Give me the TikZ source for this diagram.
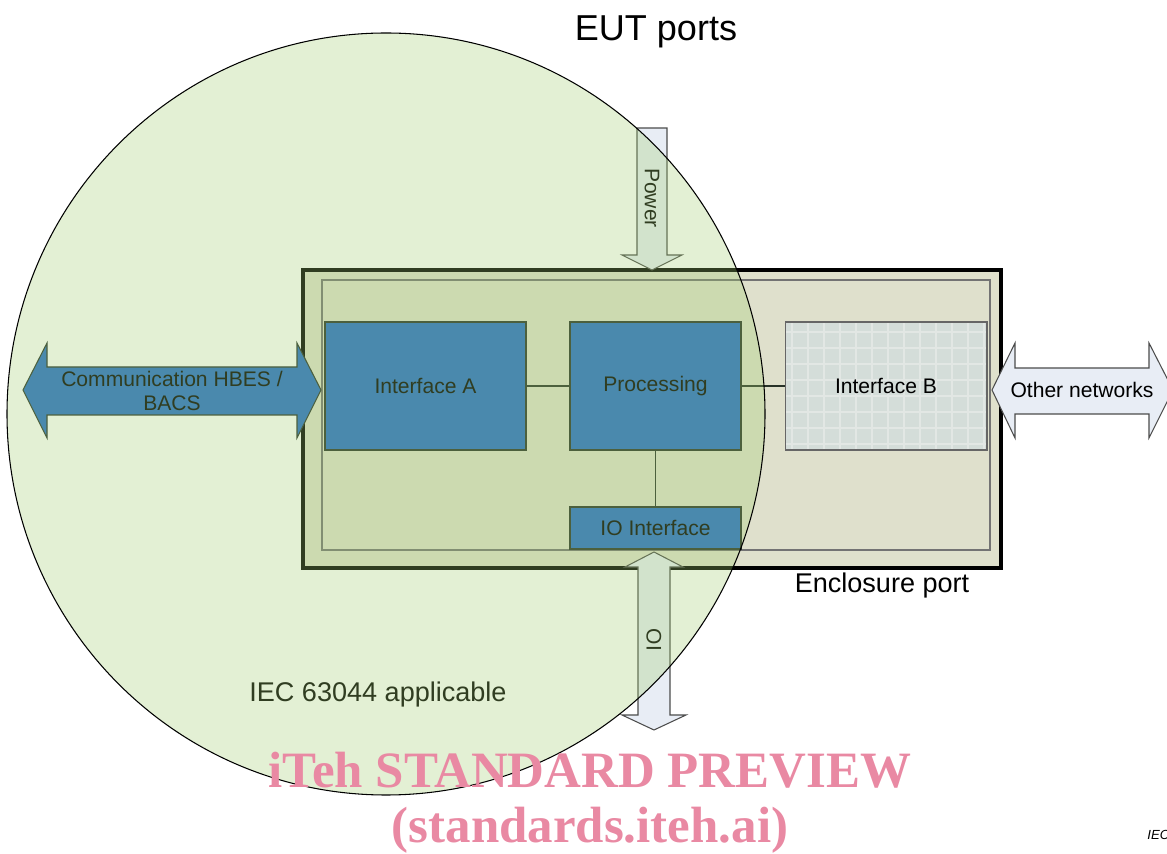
\documentclass[tikz,border=0pt]{standalone}
\usepackage{fontspec}
\setmainfont{Liberation Sans}
\newfontfamily\wmfont{Liberation Serif}
\usepackage{tikz}

\definecolor{boxblue}{RGB}{36,108,200}
\definecolor{circgreen}{RGB}{162,205,112}
\definecolor{encfill}{RGB}{223,224,204}
\definecolor{portfill}{RGB}{232,237,245}
\definecolor{gridfill}{RGB}{212,221,217}
\definecolor{gridline}{RGB}{226,231,228}
\definecolor{wmpink}{RGB}{233,137,163}
\definecolor{edge}{RGB}{40,50,40}

\begin{document}
\begin{tikzpicture}
[x=0.02cm,y=-0.02cm,every node/.style={font=\fontsize{12}{14}\selectfont,inner sep=0pt},
 box/.style={draw=edge,fill=boxblue,line width=0.6pt,minimum height=2.56cm},
 link/.style={draw=edge,line width=0.6pt},
 port/.style={draw=black!70,fill=portfill,line width=0.6pt}]

  \useasboundingbox (0,0) rectangle (1167,854);

  % enclosure
  \draw[line width=2.3pt,fill=encfill] (303,270) rectangle (1001,568);
  \draw[draw=black!55,line width=0.6pt] (322,280) rectangle (990,550);

  % grid under interface B
  \fill[gridfill] (785,322) rectangle (987,450);
  \foreach \gx in {792,808,...,984}
    \draw[gridline,line width=0.9pt] (\gx,323) -- (\gx,449);
  \foreach \gy in {332,348,...,444}
    \draw[gridline,line width=0.9pt] (786,\gy) -- (986,\gy);

  \node[box,minimum width=4.02cm] (ifa) at (425.5,386) {Interface A};
  \node[box,minimum width=3.42cm] (proc) at (655.5,386) {Processing};
  \node[box,fill=none,draw=black!60,minimum width=4.04cm] (ifb) at (886,386) {Interface B};
  \node[box,minimum width=3.42cm,minimum height=0.84cm] (io) at (655.5,528) {IO Interface};

  \foreach \from/\to in {ifa/proc, proc/ifb, proc/io}
    \draw[link] (\from) -- (\to);

  % ports
  \draw[port] (637,128) -- (667,128) -- (667,255) -- (682,255) -- (652,270)
    -- (622,255) -- (637,255) -- cycle;
  \node[rotate=-90] (power) at (652,198) {Power};

  \draw[port] (638,567) -- (625,567) -- (654,552) -- (683,567) -- (670,567)
    -- (670,715) -- (686,715) -- (654,730) -- (622,715) -- (638,715) -- cycle;
  \node[rotate=-90] (oi) at (654,640) {OI};

  \draw[draw=edge,fill=boxblue,line width=0.6pt] (23,390) -- (47,343) -- (47,367)
    -- (297,367) -- (297,343) -- (321,390) -- (297,438) -- (297,415)
    -- (47,415) -- (47,438) -- cycle;
  \node[align=center] (comm) at (172,391) {Communication HBES /\\BACS};

  \draw[port] (992,390) -- (1015,343) -- (1015,368) -- (1149,368) -- (1149,343)
    -- (1173,390) -- (1149,438) -- (1149,414) -- (1015,414) -- (1015,438) -- cycle;
  \node (other) at (1082,390) {Other networks};

  % labels
  \node[font=\fontsize{20.5}{24}\selectfont] (eut) at (656,32) {EUT ports};
  \node[font=\fontsize{15.4}{18}\selectfont] (encl) at (882,586) {Enclosure port};
  \node[font=\fontsize{15.4}{18}\selectfont] (appl) at (378,695) {IEC 63044 applicable};

  % applicability circle
  \draw[fill=circgreen,fill opacity=0.3,line width=0.6pt] (386,414) ellipse [x radius=379,y radius=381];

  \node[font=\wmfont\bfseries\fontsize{29}{34}\selectfont,text=wmpink] (wm1) at (590,770) {iTeh STANDARD PREVIEW};
  \node[font=\wmfont\bfseries\fontsize{29}{34}\selectfont,text=wmpink] (wm2) at (590,830) {(standards.iteh.ai)};
  \node[anchor=west,font=\itshape\fontsize{7.5}{9}\selectfont] (iec) at (1147,835) {IEC};

\end{tikzpicture}
\end{document}
